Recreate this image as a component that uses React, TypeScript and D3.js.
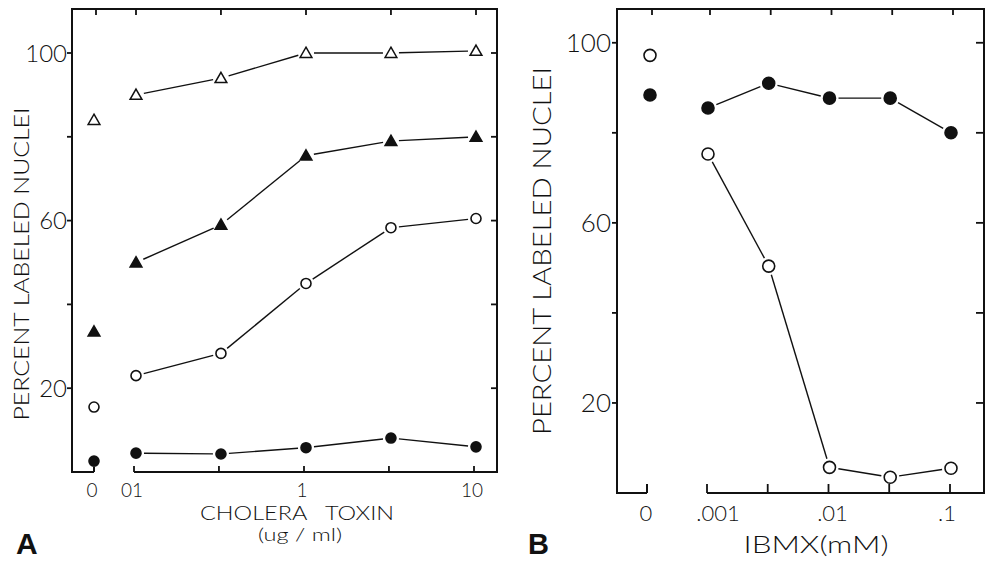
import React from "react";
import * as d3 from "d3";

// Panel A: cholera toxin dose (ug/ml), zero dose plotted separately
const aDoses = [0.1, 0.316, 1, 3.16, 10];
const aOpenTriZero = 84;
const aOpenTri = [90, 94, 100, 100, 100.5];
const aFilledTriZero = 33.5;
const aFilledTri = [50, 59, 75.5, 79, 80];
const aOpenCircleZero = 15.5;
const aOpenCircle = [23, 28.3, 45, 58.3, 60.5];
const aFilledCircleZero = 2.6;
const aFilledCircle = [4.5, 4.3, 5.8, 8.1, 6];
const aXTickLabels = ["01", "1", "10"];
const aXTickValues = [0.1, 1, 10];

// Panel B: IBMX (mM)
const bDoses = [0.001, 0.00316, 0.01, 0.0316, 0.1];
const bFilledZero = 88.4;
const bFilled = [85.5, 91, 87.7, 87.7, 80];
const bOpenZero = 97.2;
const bOpen = [75.3, 50.4, 5.7, 3.5, 5.5];
const bXTickLabels = [".001", ".01", ".1"];
const bXTickValues = [0.001, 0.01, 0.1];

const yTicks = [20, 40, 60, 80, 100];
const yTickLabels = [20, 60, 100];

const FONT = "Lato, 'DejaVu Sans', sans-serif";
const WEIGHT = 300;
const INK = "#111";

type Pt = [number, number];

// line segments with a small gap at each marker, like the original drawing
const gappedSegments = (pts: Pt[], gap: number) => {
  const out: JSX.Element[] = [];
  for (let i = 0; i < pts.length - 1; i++) {
    const [x1, y1] = pts[i];
    const [x2, y2] = pts[i + 1];
    const len = Math.hypot(x2 - x1, y2 - y1);
    const ux = (x2 - x1) / len;
    const uy = (y2 - y1) / len;
    out.push(
      <line
        key={i}
        x1={x1 + ux * gap}
        y1={y1 + uy * gap}
        x2={x2 - ux * gap}
        y2={y2 - uy * gap}
        stroke={INK}
        strokeWidth={1.4}
      />
    );
  }
  return out;
};

const tri = d3.symbol().type(d3.symbolTriangle).size(60)();

const Marker = ({ x, y, kind, r }: { x: number; y: number; kind: string; r: number }) => {
  if (kind === "openTri" || kind === "filledTri") {
    return (
      <path
        d={tri as string}
        transform={`translate(${x},${y + 1})`}
        fill={kind === "filledTri" ? INK : "#fff"}
        stroke={INK}
        strokeWidth={1.5}
      />
    );
  }
  return (
    <circle
      cx={x}
      cy={y}
      r={r}
      fill={kind === "filledCircle" ? INK : "#fff"}
      stroke={INK}
      strokeWidth={1.6}
    />
  );
};

const txt = { fontFamily: FONT, fontWeight: WEIGHT, fill: INK } as const;

const PanelA = () => {
  const left = 72, right = 497, top = 9, bottom = 472;
  const zeroX = 94;
  const x = d3.scaleLog().domain([0.1, 10]).range([136, 476]);
  const y = d3.scaleLinear().domain([0, 110.5]).range([bottom, top]);
  const xTickAll = [0.1, 0.316, 1, 3.16, 10];

  const series = [
    { kind: "openTri", zero: aOpenTriZero, vals: aOpenTri },
    { kind: "filledTri", zero: aFilledTriZero, vals: aFilledTri },
    { kind: "openCircle", zero: aOpenCircleZero, vals: aOpenCircle },
    { kind: "filledCircle", zero: aFilledCircleZero, vals: aFilledCircle },
  ];

  return (
    <g>
      {/* frame */}
      <path
        d={`M${zeroX},${bottom}H${left}V${top}H${right}V${bottom}H${x(0.1) - 2}`}
        fill="none"
        stroke={INK}
        strokeWidth={2}
      />
      <line x1={zeroX} x2={zeroX} y1={bottom} y2={bottom - 5} stroke={INK} strokeWidth={2} />
      {/* top and bottom ticks */}
      {[zeroX + 2, ...xTickAll.map((d) => x(d))].map((px, i) => (
        <line key={"t" + i} x1={px} x2={px} y1={top} y2={top + 6} stroke={INK} strokeWidth={1.8} />
      ))}
      {xTickAll.map((d, i) => (
        <line key={"b" + i} x1={x(d) - 2} x2={x(d) - 2} y1={bottom} y2={bottom - 6} stroke={INK} strokeWidth={1.8} />
      ))}
      {/* y ticks */}
      {yTicks.map((v) => (
        <g key={v}>
          <line x1={left - 5} x2={left} y1={y(v)} y2={y(v)} stroke={INK} strokeWidth={1.8} />
          <line x1={right - 6} x2={right} y1={y(v)} y2={y(v)} stroke={INK} strokeWidth={1.8} />
        </g>
      ))}
      {yTickLabels.map((v) => (
        <text key={v} x={67} y={y(v)} dy="0.36em" textAnchor="end" fontSize={24} {...txt}>
          {v}
        </text>
      ))}
      {/* x tick labels */}
      <text x={zeroX - 2} y={497} textAnchor="middle" fontSize={19} {...txt}>0</text>
      {aXTickValues.map((d, i) => (
        <text key={i} x={x(d) - 4} y={497} textAnchor="middle" fontSize={19} {...txt}>
          {aXTickLabels[i]}
        </text>
      ))}
      <text x={297} y={520} textAnchor="middle" fontSize={19} {...txt} style={{ whiteSpace: "pre" }} textLength={194} lengthAdjust="spacingAndGlyphs">
        {"CHOLERA   TOXIN"}
      </text>
      <text x={300} y={541} textAnchor="middle" fontSize={18} {...txt} textLength={84} lengthAdjust="spacingAndGlyphs">
        (ug / ml)
      </text>
      <text x={16} y={554} fontSize={30} fontWeight="bold" fontFamily="'Liberation Sans', Arial, sans-serif" fill={INK}>A</text>
      <text
        transform="translate(29,264) rotate(-90)"
        textAnchor="middle"
        fontSize={21}
        {...txt}
        textLength={313}
        lengthAdjust="spacingAndGlyphs"
      >
        PERCENT LABELED NUCLEI
      </text>
      {/* series */}
      {series.map((s) => {
        const pts: Pt[] = s.vals.map((v, i) => [x(aDoses[i]), y(v)]);
        return (
          <g key={s.kind}>
            {gappedSegments(pts, 8)}
            <Marker x={zeroX} y={y(s.zero)} kind={s.kind} r={5} />
            {pts.map((p, i) => (
              <Marker key={i} x={p[0]} y={p[1]} kind={s.kind} r={5} />
            ))}
          </g>
        );
      })}
    </g>
  );
};

const PanelB = () => {
  const left = 617, right = 984, top = 9, bottom = 493;
  const zeroX = 650;
  const x = d3.scaleLog().domain([0.001, 0.1]).range([708, 951]);
  const y = d3.scaleLinear().domain([0, 107.5]).range([bottom, top]);
  const xTickAll = [0.001, 0.00316, 0.01, 0.0316, 0.1];

  const series = [
    { kind: "filledCircle", zero: bFilledZero, vals: bFilled },
    { kind: "openCircle", zero: bOpenZero, vals: bOpen },
  ];

  return (
    <g>
      <path
        d={`M${zeroX - 3},${bottom}H${left}V${top}H${right}V${bottom}H${x(0.001) - 1}`}
        fill="none"
        stroke={INK}
        strokeWidth={2}
      />
      <line x1={zeroX - 3} x2={zeroX - 3} y1={bottom} y2={bottom - 9} stroke={INK} strokeWidth={2} />
      {[zeroX + 2, ...xTickAll.map((d) => x(d) + 2)].map((px, i) => (
        <line key={"t" + i} x1={px} x2={px} y1={top} y2={top + 6} stroke={INK} strokeWidth={1.8} />
      ))}
      {xTickAll.map((d, i) => (
        <line key={"b" + i} x1={x(d) - 1} x2={x(d) - 1} y1={bottom} y2={bottom - 9} stroke={INK} strokeWidth={1.8} />
      ))}
      {yTicks.map((v) => (
        <g key={v}>
          <line x1={left - 5} x2={left} y1={y(v)} y2={y(v)} stroke={INK} strokeWidth={1.8} />
          <line x1={right - 8} x2={right} y1={y(v)} y2={y(v)} stroke={INK} strokeWidth={1.8} />
        </g>
      ))}
      {yTickLabels.map((v) => (
        <text key={v} x={611} y={y(v)} dy="0.36em" textAnchor="end" fontSize={26} {...txt}>
          {v}
        </text>
      ))}
      <text x={646} y={521} textAnchor="middle" fontSize={22} {...txt}>0</text>
      {bXTickValues.map((d, i) => (
        <text key={i} x={x(d) + 10 - i * 7} y={521} textAnchor="middle" fontSize={22} {...txt}>
          {bXTickLabels[i]}
        </text>
      ))}
      <text x={816} y={553} textAnchor="middle" fontSize={23} {...txt} textLength={145} lengthAdjust="spacingAndGlyphs">
        IBMX(mM)
      </text>
      <text x={528} y={554} fontSize={29} fontWeight="bold" fontFamily="'Liberation Sans', Arial, sans-serif" fill={INK}>B</text>
      <text
        transform="translate(551,251) rotate(-90)"
        textAnchor="middle"
        fontSize={26}
        {...txt}
        textLength={368}
        lengthAdjust="spacingAndGlyphs"
      >
        PERCENT LABELED NUCLEI
      </text>
      {series.map((s) => {
        const pts: Pt[] = s.vals.map((v, i) => [x(bDoses[i]), y(v)]);
        return (
          <g key={s.kind}>
            {gappedSegments(pts, 9)}
            <Marker x={zeroX} y={y(s.zero)} kind={s.kind} r={6} />
            {pts.map((p, i) => (
              <Marker key={i} x={p[0]} y={p[1]} kind={s.kind} r={6} />
            ))}
          </g>
        );
      })}
    </g>
  );
};

export default function App() {
  return (
    <svg
      width={986}
      height={561}
      viewBox="0 0 986 561"
      style={{ position: "absolute", left: 0, top: 0, background: "#fff" }}
    >
      <rect width={986} height={561} fill="#fff" />
      <PanelA />
      <PanelB />
    </svg>
  );
}
